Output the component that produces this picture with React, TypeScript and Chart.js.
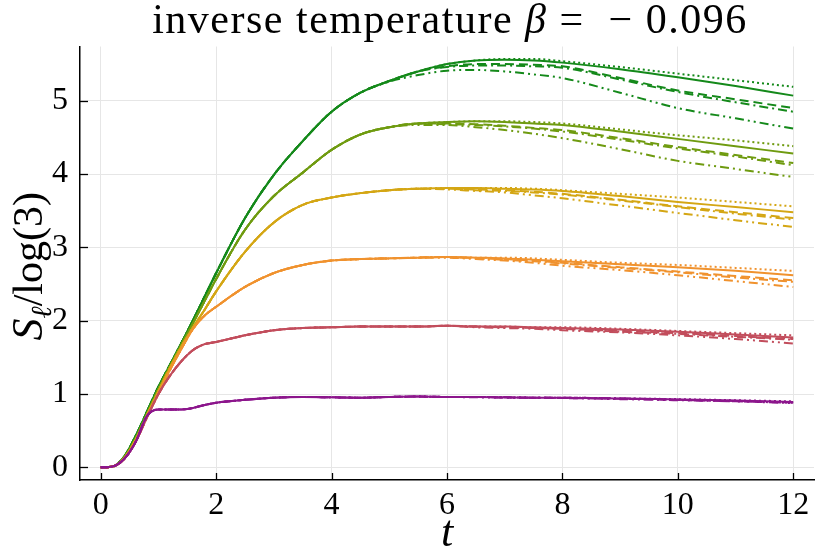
import React, { useEffect, useRef } from "react";
import { Chart, registerables } from "chart.js";

Chart.register(...registerables);

// time grid
const T = [0, 0.2, 0.4, 0.6, 0.8, 1.0, 1.2, 1.4, 1.6, 1.8, 2.0, 2.5, 3.0, 3.5, 4.0, 4.5, 5.0, 5.5, 6.0, 6.5, 7.0, 7.5, 8.0, 9.0, 10.0, 11.0, 12.0];

const X_TICKS = [0, 2, 4, 6, 8, 10, 12];
const Y_TICKS = [0, 1, 2, 3, 4, 5];

// purple group
const purpleSolid = [0, 0.01, 0.11, 0.34, 0.70, 0.79, 0.79, 0.79, 0.81, 0.85, 0.88, 0.92, 0.95, 0.96, 0.955, 0.95, 0.96, 0.965, 0.96, 0.96, 0.955, 0.95, 0.95, 0.94, 0.925, 0.91, 0.89];
const purpleDotted = [0, 0.01, 0.11, 0.34, 0.70, 0.79, 0.79, 0.79, 0.81, 0.85, 0.88, 0.92, 0.95, 0.96, 0.955, 0.95, 0.96, 0.965, 0.96, 0.96, 0.955, 0.95, 0.95, 0.94, 0.93, 0.915, 0.90];
const purpleDashed = [0, 0.01, 0.11, 0.34, 0.70, 0.79, 0.79, 0.79, 0.81, 0.85, 0.88, 0.92, 0.95, 0.96, 0.955, 0.95, 0.96, 0.965, 0.96, 0.96, 0.955, 0.95, 0.945, 0.935, 0.92, 0.905, 0.885];
const purpleDashDot = [0, 0.01, 0.11, 0.34, 0.70, 0.79, 0.79, 0.79, 0.81, 0.85, 0.88, 0.92, 0.95, 0.96, 0.955, 0.95, 0.96, 0.965, 0.96, 0.96, 0.955, 0.95, 0.95, 0.94, 0.92, 0.90, 0.88];
const purpleDashDotDot = [0, 0.01, 0.11, 0.34, 0.70, 0.79, 0.79, 0.79, 0.81, 0.85, 0.88, 0.92, 0.95, 0.96, 0.955, 0.95, 0.96, 0.965, 0.96, 0.955, 0.95, 0.95, 0.945, 0.93, 0.915, 0.90, 0.875];

// red group
const redSolid = [0, 0.01, 0.11, 0.34, 0.68, 1.00, 1.25, 1.45, 1.60, 1.68, 1.71, 1.80, 1.87, 1.90, 1.91, 1.92, 1.92, 1.92, 1.93, 1.92, 1.92, 1.91, 1.90, 1.88, 1.85, 1.81, 1.77];
const redDotted = [0, 0.01, 0.11, 0.34, 0.68, 1.00, 1.25, 1.45, 1.60, 1.68, 1.71, 1.80, 1.87, 1.90, 1.91, 1.92, 1.92, 1.92, 1.93, 1.92, 1.92, 1.91, 1.91, 1.89, 1.86, 1.83, 1.80];
const redDashed = [0, 0.01, 0.11, 0.34, 0.68, 1.00, 1.25, 1.45, 1.60, 1.68, 1.71, 1.80, 1.87, 1.90, 1.91, 1.92, 1.92, 1.92, 1.93, 1.92, 1.91, 1.90, 1.89, 1.86, 1.83, 1.79, 1.75];
const redDashDot = [0, 0.01, 0.11, 0.34, 0.68, 1.00, 1.25, 1.45, 1.60, 1.68, 1.71, 1.80, 1.87, 1.90, 1.91, 1.92, 1.92, 1.92, 1.93, 1.92, 1.91, 1.90, 1.89, 1.85, 1.82, 1.78, 1.74];
const redDashDotDot = [0, 0.01, 0.11, 0.34, 0.68, 1.00, 1.25, 1.45, 1.60, 1.68, 1.71, 1.80, 1.87, 1.90, 1.91, 1.92, 1.92, 1.92, 1.93, 1.91, 1.90, 1.89, 1.87, 1.84, 1.80, 1.75, 1.69];

// orange group
const orangeSolid = [0, 0.01, 0.11, 0.35, 0.69, 1.01, 1.33, 1.62, 1.89, 2.07, 2.19, 2.46, 2.65, 2.76, 2.82, 2.84, 2.85, 2.86, 2.87, 2.86, 2.85, 2.83, 2.81, 2.77, 2.73, 2.68, 2.62];
const orangeDotted = [0, 0.01, 0.11, 0.35, 0.69, 1.01, 1.33, 1.62, 1.89, 2.07, 2.19, 2.46, 2.65, 2.76, 2.82, 2.84, 2.85, 2.86, 2.87, 2.86, 2.86, 2.85, 2.83, 2.79, 2.76, 2.72, 2.68];
const orangeDashed = [0, 0.01, 0.11, 0.35, 0.69, 1.01, 1.33, 1.62, 1.89, 2.07, 2.19, 2.46, 2.65, 2.76, 2.82, 2.84, 2.85, 2.86, 2.87, 2.85, 2.84, 2.82, 2.79, 2.73, 2.67, 2.61, 2.55];
const orangeDashDot = [0, 0.01, 0.11, 0.35, 0.69, 1.01, 1.33, 1.62, 1.89, 2.07, 2.19, 2.46, 2.65, 2.76, 2.82, 2.84, 2.85, 2.86, 2.87, 2.85, 2.83, 2.81, 2.78, 2.72, 2.66, 2.59, 2.53];
const orangeDashDotDot = [0, 0.01, 0.11, 0.35, 0.69, 1.01, 1.33, 1.62, 1.89, 2.07, 2.19, 2.46, 2.65, 2.76, 2.82, 2.84, 2.85, 2.86, 2.86, 2.84, 2.82, 2.79, 2.75, 2.69, 2.62, 2.54, 2.46];

// yellow group
const yellowSolid = [0, 0.01, 0.12, 0.37, 0.71, 1.04, 1.36, 1.65, 1.91, 2.15, 2.40, 2.94, 3.34, 3.58, 3.68, 3.74, 3.78, 3.80, 3.81, 3.81, 3.80, 3.79, 3.77, 3.70, 3.62, 3.55, 3.48];
const yellowDotted = [0, 0.01, 0.12, 0.37, 0.71, 1.04, 1.36, 1.65, 1.91, 2.15, 2.40, 2.94, 3.34, 3.58, 3.68, 3.74, 3.78, 3.80, 3.81, 3.81, 3.81, 3.80, 3.78, 3.73, 3.68, 3.62, 3.56];
const yellowDashed = [0, 0.01, 0.12, 0.37, 0.71, 1.04, 1.36, 1.65, 1.91, 2.15, 2.40, 2.94, 3.34, 3.58, 3.68, 3.74, 3.78, 3.80, 3.80, 3.79, 3.78, 3.76, 3.73, 3.65, 3.56, 3.48, 3.40];
const yellowDashDot = [0, 0.01, 0.12, 0.37, 0.71, 1.04, 1.36, 1.65, 1.91, 2.15, 2.40, 2.94, 3.34, 3.58, 3.68, 3.74, 3.78, 3.80, 3.80, 3.78, 3.77, 3.75, 3.72, 3.64, 3.55, 3.46, 3.38];
const yellowDashDotDot = [0, 0.01, 0.12, 0.37, 0.71, 1.04, 1.36, 1.65, 1.91, 2.15, 2.40, 2.94, 3.34, 3.58, 3.68, 3.74, 3.78, 3.80, 3.79, 3.77, 3.75, 3.71, 3.67, 3.57, 3.47, 3.37, 3.28];

// olive group
const oliveSolid = [0, 0.01, 0.13, 0.39, 0.73, 1.07, 1.38, 1.68, 1.97, 2.27, 2.57, 3.24, 3.70, 4.02, 4.33, 4.54, 4.64, 4.69, 4.71, 4.72, 4.71, 4.69, 4.67, 4.58, 4.48, 4.38, 4.28];
const oliveDotted = [0, 0.01, 0.13, 0.39, 0.73, 1.07, 1.38, 1.68, 1.97, 2.27, 2.57, 3.24, 3.70, 4.02, 4.33, 4.54, 4.64, 4.69, 4.71, 4.72, 4.72, 4.71, 4.69, 4.61, 4.53, 4.46, 4.38];
const oliveDashed = [0, 0.01, 0.13, 0.39, 0.73, 1.07, 1.38, 1.68, 1.97, 2.27, 2.57, 3.24, 3.70, 4.02, 4.33, 4.54, 4.64, 4.69, 4.69, 4.68, 4.66, 4.63, 4.60, 4.49, 4.37, 4.26, 4.15];
const oliveDashDot = [0, 0.01, 0.13, 0.39, 0.73, 1.07, 1.38, 1.68, 1.97, 2.27, 2.57, 3.24, 3.70, 4.02, 4.33, 4.54, 4.64, 4.69, 4.68, 4.67, 4.65, 4.62, 4.58, 4.47, 4.35, 4.24, 4.12];
const oliveDashDotDot = [0, 0.01, 0.13, 0.39, 0.73, 1.07, 1.38, 1.68, 1.97, 2.27, 2.57, 3.24, 3.70, 4.02, 4.33, 4.54, 4.64, 4.67, 4.67, 4.64, 4.60, 4.55, 4.49, 4.34, 4.18, 4.07, 3.96];

// green group
const greenSolid = [0, 0.01, 0.14, 0.42, 0.76, 1.10, 1.40, 1.70, 2.01, 2.33, 2.65, 3.40, 3.99, 4.45, 4.85, 5.11, 5.27, 5.40, 5.50, 5.55, 5.56, 5.55, 5.52, 5.43, 5.32, 5.20, 5.07];
const greenDotted = [0, 0.01, 0.14, 0.42, 0.76, 1.10, 1.40, 1.70, 2.01, 2.33, 2.65, 3.40, 3.99, 4.45, 4.85, 5.11, 5.27, 5.40, 5.50, 5.55, 5.57, 5.57, 5.54, 5.46, 5.37, 5.28, 5.19];
const greenDashed = [0, 0.01, 0.14, 0.42, 0.76, 1.10, 1.40, 1.70, 2.01, 2.33, 2.65, 3.40, 3.99, 4.45, 4.85, 5.11, 5.27, 5.40, 5.47, 5.50, 5.50, 5.49, 5.47, 5.31, 5.14, 5.02, 4.90];
const greenDashDot = [0, 0.01, 0.14, 0.42, 0.76, 1.10, 1.40, 1.70, 2.01, 2.33, 2.65, 3.40, 3.99, 4.45, 4.85, 5.11, 5.27, 5.40, 5.46, 5.48, 5.48, 5.47, 5.45, 5.29, 5.12, 4.98, 4.85];
const greenDashDotDot = [0, 0.01, 0.14, 0.42, 0.76, 1.10, 1.40, 1.70, 2.01, 2.33, 2.65, 3.40, 3.99, 4.45, 4.85, 5.11, 5.26, 5.35, 5.41, 5.42, 5.40, 5.36, 5.31, 5.11, 4.90, 4.76, 4.62];

const GROUP_COLORS = ["#8c168c", "#c24d5c", "#f0922e", "#d4a614", "#6f9b10", "#14891a"];
const GROUPS = [
  [purpleSolid, purpleDashed, purpleDotted, purpleDashDot, purpleDashDotDot],
  [redSolid, redDashed, redDotted, redDashDot, redDashDotDot],
  [orangeSolid, orangeDashed, orangeDotted, orangeDashDot, orangeDashDotDot],
  [yellowSolid, yellowDashed, yellowDotted, yellowDashDot, yellowDashDotDot],
  [oliveSolid, oliveDashed, oliveDotted, oliveDashDot, oliveDashDotDot],
  [greenSolid, greenDashed, greenDotted, greenDashDot, greenDashDotDot],
];
const DASHES = [[], [9, 5], [2, 3], [9, 4, 2, 4], [9, 4, 2, 4, 2, 4]];

const FONT = '"Liberation Serif", "DejaVu Serif", serif';

const overlay = {
  id: "overlay",
  afterDraw(chart: any) {
    const { ctx, chartArea: a, scales } = chart;
    const x = scales.x, y = scales.y;
    ctx.save();
    // inward ticks
    ctx.strokeStyle = "#000";
    ctx.lineWidth = 1.3;
    for (const v of X_TICKS) {
      const px = Math.round(x.getPixelForValue(v)) + 0.5;
      ctx.beginPath();
      ctx.moveTo(px, a.bottom);
      ctx.lineTo(px, a.bottom - 7);
      ctx.stroke();
    }
    for (const v of Y_TICKS) {
      const py = Math.round(y.getPixelForValue(v)) + 0.5;
      ctx.beginPath();
      ctx.moveTo(a.left, py);
      ctx.lineTo(a.left + 8, py);
      ctx.stroke();
    }
    ctx.fillStyle = "#000";
    ctx.textBaseline = "alphabetic";
    ctx.textAlign = "left";

    const drawPieces = (pieces: any[], cx: number, base: number, spacing = "0px") => {
      ctx.letterSpacing = spacing;
      let total = 0;
      for (const p of pieces) {
        ctx.font = p.font;
        total += ctx.measureText(p.text).width;
      }
      let px = cx - total / 2;
      for (const p of pieces) {
        ctx.font = p.font;
        ctx.fillText(p.text, px, base + (p.dy || 0));
        px += ctx.measureText(p.text).width;
      }
      ctx.letterSpacing = "0px";
    };

    // title
    const cx = (a.left + a.right) / 2;
    drawPieces(
      [
        { text: "inverse temperature ", font: `42px ${FONT}` },
        { text: "β", font: `italic 42px ${FONT}` },
        { text: " =  − 0.096", font: `42px ${FONT}` },
      ],
      cx + 3,
      33,
      "1.5px"
    );

    // x label
    drawPieces([{ text: "t", font: `italic 44px ${FONT}` }], cx, 546);

    // y label
    ctx.save();
    ctx.translate(42, (a.top + a.bottom) / 2 + 3);
    ctx.rotate(-Math.PI / 2);
    drawPieces(
      [
        { text: "S", font: `italic 44px ${FONT}` },
        { text: "ℓ", font: `italic 29px ${FONT}`, dy: 9 },
        { text: "/log(3)", font: `42px ${FONT}` },
      ],
      0,
      0
    );
    ctx.restore();
    ctx.restore();
  },
};

export default function App() {
  const ref = useRef<HTMLCanvasElement | null>(null);
  useEffect(() => {
    if (!ref.current) return;
    const datasets: any[] = [];
    GROUPS.forEach((g, gi) => {
      g.forEach((series, si) => {
        datasets.push({
          data: T.map((t, i) => ({ x: t, y: series[i] })),
          borderColor: GROUP_COLORS[gi],
          borderWidth: 2,
          borderDash: DASHES[si],
          pointRadius: 0,
          fill: false,
          cubicInterpolationMode: "monotone",
        });
      });
    });
    const chart = new Chart(ref.current, {
      type: "line",
      data: { datasets },
      options: {
        animation: false,
        responsive: true,
        maintainAspectRatio: false,
        layout: { padding: { top: 46.5, right: 16, left: 0, bottom: 0 } },
        plugins: { legend: { display: false }, tooltip: { enabled: false }, title: { display: false } },
        scales: {
          x: {
            type: "linear",
            min: -0.36,
            max: 12.36,
            afterBuildTicks: (s: any) => {
              s.ticks = X_TICKS.map((v) => ({ value: v }));
            },
            afterFit: (s: any) => {
              s.height = 74;
            },
            grid: { color: "#e6e6e6", lineWidth: 1, drawTicks: false },
            border: { color: "#000", width: 1.5 },
            ticks: {
              font: { family: FONT, size: 32 },
              color: "#000",
              padding: 6,
              maxRotation: 0,
              autoSkip: false,
              callback: (v: any) => String(v),
            },
          },
          y: {
            type: "linear",
            min: -0.173,
            max: 5.74,
            afterBuildTicks: (s: any) => {
              s.ticks = Y_TICKS.map((v) => ({ value: v }));
            },
            afterFit: (s: any) => {
              s.width = 80;
            },
            grid: { color: "#e6e6e6", lineWidth: 1, drawTicks: false },
            border: { color: "#000", width: 1.5 },
            ticks: {
              font: { family: FONT, size: 32 },
              color: "#000",
              padding: 12,
              autoSkip: false,
              callback: (v: any) => String(v),
            },
          },
        },
      },
      plugins: [overlay],
    });
    return () => chart.destroy();
  }, []);
  return (
    <div style={{ position: "absolute", left: 0, top: 0, width: 830, height: 554, background: "#fff" }}>
      <canvas ref={ref} style={{ display: "block" }} />
    </div>
  );
}
